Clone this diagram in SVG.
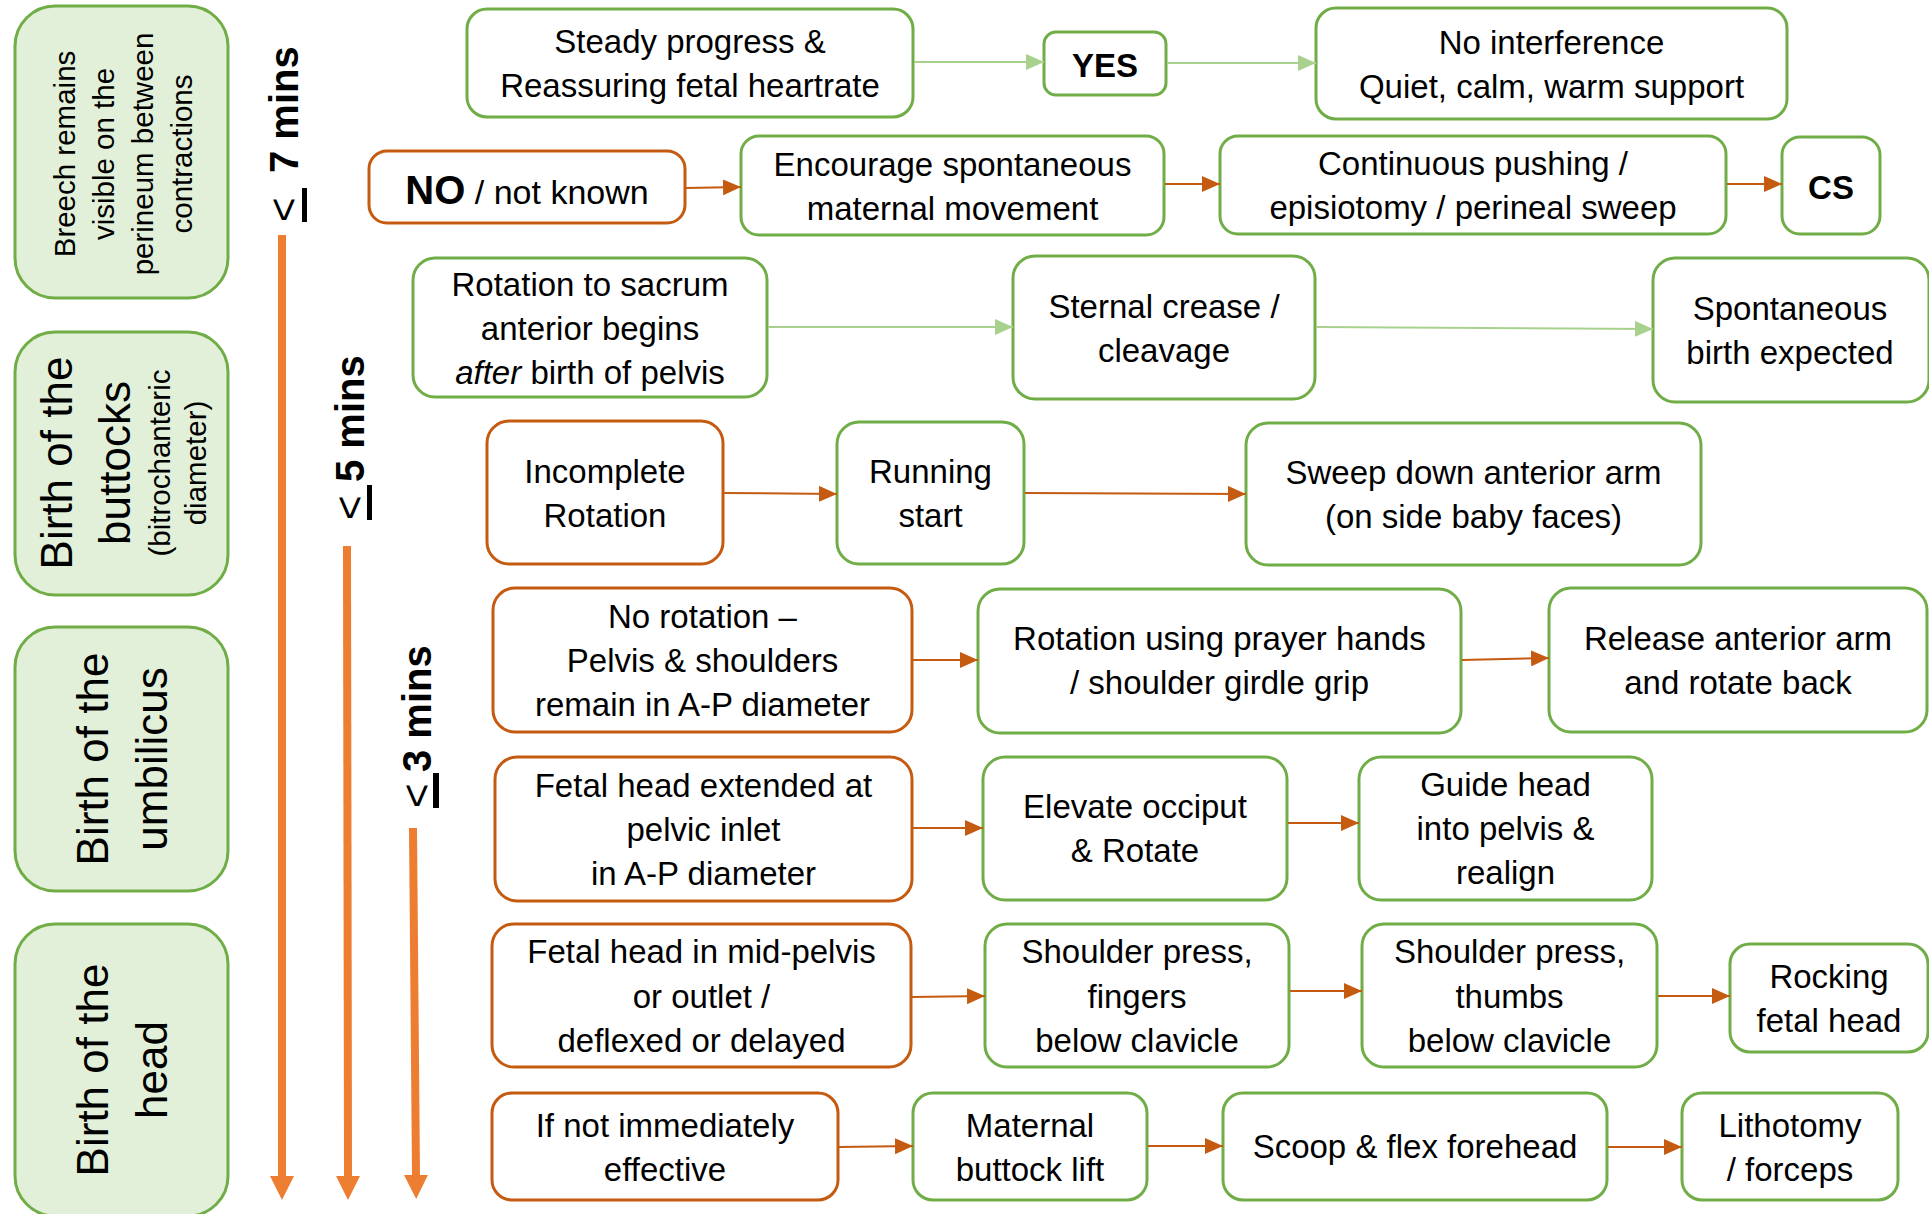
<svg xmlns="http://www.w3.org/2000/svg" width="1929" height="1214" viewBox="0 0 1929 1214">
<defs>
<style>
.t{font-family:"Liberation Sans",Arial,sans-serif;font-size:33px;fill:#000;text-anchor:middle}
.s{font-family:"Liberation Sans",Arial,sans-serif;fill:#000;text-anchor:middle}
.b{font-weight:bold}
.g{fill:#fff;stroke:#70ad47;stroke-width:3}
.o{fill:#fff;stroke:#c55a11;stroke-width:3}
.lb{fill:#e2f0d9;stroke:#70ad47;stroke-width:3}
.cg{stroke:#a9d18e;stroke-width:2;fill:none;marker-end:url(#ag)}
.co{stroke:#c55a11;stroke-width:2;fill:none;marker-end:url(#ao)}
.va{stroke:#ed7d31;stroke-width:8;fill:none;marker-end:url(#av)}
.vl{font-family:"Liberation Sans",Arial,sans-serif;fill:#000}
</style>
<marker id="ag" markerUnits="userSpaceOnUse" markerWidth="18" markerHeight="16" refX="18" refY="8" orient="auto"><path d="M0,0 L18,8 L0,16 Z" fill="#a9d18e"/></marker>
<marker id="ao" markerUnits="userSpaceOnUse" markerWidth="18" markerHeight="16" refX="18" refY="8" orient="auto"><path d="M0,0 L18,8 L0,16 Z" fill="#c55a11"/></marker>
<marker id="av" markerUnits="userSpaceOnUse" markerWidth="24" markerHeight="24" refX="0" refY="12" orient="auto"><path d="M0,0 L24,12 L0,24 Z" fill="#ed7d31"/></marker>
</defs>
<rect width="1929" height="1214" fill="#fff"/>

<!-- left stage boxes -->
<g id="stage-breech">
<rect class="lb" x="15" y="6" width="213" height="292" rx="40"/>
<text class="s" font-size="29.5" transform="translate(0,154) rotate(-90)"><tspan x="0" y="75">Breech remains</tspan><tspan x="0" y="114">visible on the</tspan><tspan x="0" y="153">perineum between</tspan><tspan x="0" y="192">contractions</tspan></text>
</g>
<g id="stage-buttocks">
<rect class="lb" x="15" y="332" width="213" height="263" rx="40"/>
<text class="s" transform="translate(0,463) rotate(-90)"><tspan x="0" y="72" font-size="44">Birth of the</tspan><tspan x="0" y="130" font-size="44">buttocks</tspan><tspan x="0" y="170" font-size="29.5">(bitrochanteric</tspan><tspan x="0" y="206" font-size="29.5">diameter)</tspan></text>
</g>
<g id="stage-umbilicus">
<rect class="lb" x="15" y="627" width="213" height="264" rx="40"/>
<text class="s" font-size="44" transform="translate(0,759) rotate(-90)"><tspan x="0" y="108">Birth of the</tspan><tspan x="0" y="167">umbilicus</tspan></text>
</g>
<g id="stage-head">
<rect class="lb" x="15" y="924" width="213" height="292" rx="40"/>
<text class="s" font-size="44" transform="translate(0,1070) rotate(-90)"><tspan x="0" y="108">Birth of the</tspan><tspan x="0" y="167">head</tspan></text>
</g>

<!-- time labels -->
<g id="time-7">
<g transform="translate(298,222) rotate(-90)">
<text class="vl" x="0" y="0" font-size="42">&lt;</text>
<text class="vl b" x="49" y="0" font-size="40">7 mins</text>
<rect x="0" y="4" width="34" height="5" fill="#000"/>
</g>
</g>
<g id="time-5">
<g transform="translate(364,520) rotate(-90)">
<text class="vl" x="0" y="0" font-size="42">&lt;</text>
<text class="vl b" x="38" y="0" font-size="40">5 mins</text>
<rect x="0" y="3" width="35" height="5" fill="#000"/>
</g>
</g>
<g id="time-3">
<g transform="translate(431,808) rotate(-90)">
<text class="vl" x="0" y="0" font-size="42">&lt;</text>
<text class="vl b" x="36" y="0" font-size="40">3 mins</text>
<rect x="0" y="2" width="35" height="6" fill="#000"/>
</g>
</g>

<!-- nodes -->
<g id="n-steady"><rect class="g" x="467" y="9" width="446" height="108" rx="20"/>
<text class="t"><tspan x="690" y="53">Steady progress &amp;</tspan><tspan x="690" y="97">Reassuring fetal heartrate</tspan></text></g>
<g id="n-yes"><rect class="g" x="1044" y="32" width="122" height="63" rx="12"/>
<text class="t b" x="1105" y="77" font-size="38">YES</text></g>
<g id="n-nointerf"><rect class="g" x="1316" y="8" width="471" height="111" rx="20"/>
<text class="t"><tspan x="1551.5" y="54">No interference</tspan><tspan x="1551.5" y="98">Quiet, calm, warm support</tspan></text></g>

<g id="n-no"><rect class="o" x="369" y="151" width="316" height="72" rx="18"/>
<text class="t" x="527" y="204"><tspan class="b" font-size="40">NO</tspan><tspan font-size="34"> / not known</tspan></text></g>
<g id="n-encourage"><rect class="g" x="741" y="136" width="423" height="99" rx="18"/>
<text class="t"><tspan x="952.5" y="175.5">Encourage spontaneous</tspan><tspan x="952.5" y="219.5">maternal movement</tspan></text></g>
<g id="n-continuous"><rect class="g" x="1220" y="136" width="506" height="98" rx="18"/>
<text class="t"><tspan x="1473" y="175">Continuous pushing /</tspan><tspan x="1473" y="219">episiotomy / perineal sweep</tspan></text></g>
<g id="n-cs"><rect class="g" x="1782" y="137" width="98" height="97" rx="18"/>
<text class="t b" x="1831" y="199" font-size="38">CS</text></g>

<g id="n-rotation"><rect class="g" x="413" y="258" width="354" height="139" rx="22"/>
<text class="t"><tspan x="590" y="296">Rotation to sacrum</tspan><tspan x="590" y="340">anterior begins</tspan><tspan x="590" y="384"><tspan font-style="italic">after</tspan> birth of pelvis</tspan></text></g>
<g id="n-sternal"><rect class="g" x="1013" y="256" width="302" height="143" rx="22"/>
<text class="t"><tspan x="1164" y="318">Sternal crease /</tspan><tspan x="1164" y="362">cleavage</tspan></text></g>
<g id="n-spont"><rect class="g" x="1653" y="258" width="276" height="144" rx="22"/>
<text class="t"><tspan x="1790" y="320">Spontaneous</tspan><tspan x="1790" y="364">birth expected</tspan></text></g>

<g id="n-incomplete"><rect class="o" x="487" y="421" width="236" height="143" rx="22"/>
<text class="t"><tspan x="605" y="483">Incomplete</tspan><tspan x="605" y="527">Rotation</tspan></text></g>
<g id="n-running"><rect class="g" x="837" y="422" width="187" height="142" rx="22"/>
<text class="t"><tspan x="930.5" y="483">Running</tspan><tspan x="930.5" y="527">start</tspan></text></g>
<g id="n-sweep"><rect class="g" x="1246" y="423" width="455" height="142" rx="22"/>
<text class="t"><tspan x="1473.5" y="484">Sweep down anterior arm</tspan><tspan x="1473.5" y="528">(on side baby faces)</tspan></text></g>

<g id="n-norotation"><rect class="o" x="493" y="588" width="419" height="144" rx="22"/>
<text class="t"><tspan x="702.5" y="628">No rotation –</tspan><tspan x="702.5" y="672">Pelvis &amp; shoulders</tspan><tspan x="702.5" y="716">remain in A-P diameter</tspan></text></g>
<g id="n-prayer"><rect class="g" x="978" y="589" width="483" height="144" rx="22"/>
<text class="t"><tspan x="1219.5" y="650">Rotation using prayer hands</tspan><tspan x="1219.5" y="694">/ shoulder girdle grip</tspan></text></g>
<g id="n-release"><rect class="g" x="1549" y="588" width="378" height="144" rx="22"/>
<text class="t"><tspan x="1738" y="650">Release anterior arm</tspan><tspan x="1738" y="694">and rotate back</tspan></text></g>

<g id="n-extended"><rect class="o" x="495" y="757" width="417" height="144" rx="22"/>
<text class="t"><tspan x="703.5" y="797">Fetal head extended at</tspan><tspan x="703.5" y="841">pelvic inlet</tspan><tspan x="703.5" y="885">in A-P diameter</tspan></text></g>
<g id="n-elevate"><rect class="g" x="983" y="757" width="304" height="143" rx="22"/>
<text class="t"><tspan x="1135" y="818">Elevate occiput</tspan><tspan x="1135" y="862">&amp; Rotate</tspan></text></g>
<g id="n-guide"><rect class="g" x="1359" y="757" width="293" height="143" rx="22"/>
<text class="t"><tspan x="1505.5" y="796">Guide head</tspan><tspan x="1505.5" y="840">into pelvis &amp;</tspan><tspan x="1505.5" y="884">realign</tspan></text></g>

<g id="n-midpelvis"><rect class="o" x="492" y="924" width="419" height="143" rx="22"/>
<text class="t"><tspan x="701.5" y="963">Fetal head in mid-pelvis</tspan><tspan x="701.5" y="1008">or outlet /</tspan><tspan x="701.5" y="1052">deflexed or delayed</tspan></text></g>
<g id="n-fingers"><rect class="g" x="985" y="924" width="304" height="143" rx="22"/>
<text class="t"><tspan x="1137" y="963">Shoulder press,</tspan><tspan x="1137" y="1008">fingers</tspan><tspan x="1137" y="1052">below clavicle</tspan></text></g>
<g id="n-thumbs"><rect class="g" x="1362" y="924" width="295" height="143" rx="22"/>
<text class="t"><tspan x="1509.5" y="963">Shoulder press,</tspan><tspan x="1509.5" y="1008">thumbs</tspan><tspan x="1509.5" y="1052">below clavicle</tspan></text></g>
<g id="n-rocking"><rect class="g" x="1730" y="944" width="198" height="108" rx="20"/>
<text class="t"><tspan x="1829" y="988">Rocking</tspan><tspan x="1829" y="1032">fetal head</tspan></text></g>

<g id="n-ifnot"><rect class="o" x="492" y="1093" width="346" height="107" rx="20"/>
<text class="t"><tspan x="665" y="1137">If not immediately</tspan><tspan x="665" y="1181">effective</tspan></text></g>
<g id="n-maternal"><rect class="g" x="913" y="1093" width="234" height="107" rx="20"/>
<text class="t"><tspan x="1030" y="1137">Maternal</tspan><tspan x="1030" y="1181">buttock lift</tspan></text></g>
<g id="n-scoop"><rect class="g" x="1223" y="1093" width="384" height="107" rx="20"/>
<text class="t" x="1415" y="1158">Scoop &amp; flex forehead</text></g>
<g id="n-lithotomy"><rect class="g" x="1682" y="1093" width="216" height="107" rx="20"/>
<text class="t"><tspan x="1790" y="1137">Lithotomy</tspan><tspan x="1790" y="1181">/ forceps</tspan></text></g>

<!-- connectors -->
<g id="connectors">
<line class="va" x1="282" y1="235" x2="282" y2="1176"/>
<line class="va" x1="347" y1="546" x2="348" y2="1176"/>
<line class="va" x1="413" y1="828" x2="416" y2="1175"/>
<line class="cg" x1="914" y1="62" x2="1044" y2="62"/>
<line class="cg" x1="1167" y1="63" x2="1316" y2="63"/>
<line class="co" x1="686" y1="188" x2="741" y2="187"/>
<line class="co" x1="1165" y1="184" x2="1220" y2="184"/>
<line class="co" x1="1727" y1="184" x2="1782" y2="184"/>
<line class="cg" x1="768" y1="327" x2="1013" y2="327"/>
<line class="cg" x1="1316" y1="327" x2="1653" y2="329"/>
<line class="co" x1="724" y1="493" x2="837" y2="494"/>
<line class="co" x1="1025" y1="493" x2="1246" y2="494"/>
<line class="co" x1="913" y1="660" x2="978" y2="660"/>
<line class="co" x1="1462" y1="660" x2="1549" y2="658"/>
<line class="co" x1="913" y1="828" x2="983" y2="828"/>
<line class="co" x1="1288" y1="823" x2="1359" y2="823"/>
<line class="co" x1="912" y1="997" x2="985" y2="996"/>
<line class="co" x1="1290" y1="991" x2="1362" y2="991"/>
<line class="co" x1="1658" y1="996" x2="1730" y2="996"/>
<line class="co" x1="839" y1="1147" x2="913" y2="1146"/>
<line class="co" x1="1148" y1="1146" x2="1223" y2="1146"/>
<line class="co" x1="1608" y1="1147" x2="1682" y2="1147"/>
</g>
</svg>
